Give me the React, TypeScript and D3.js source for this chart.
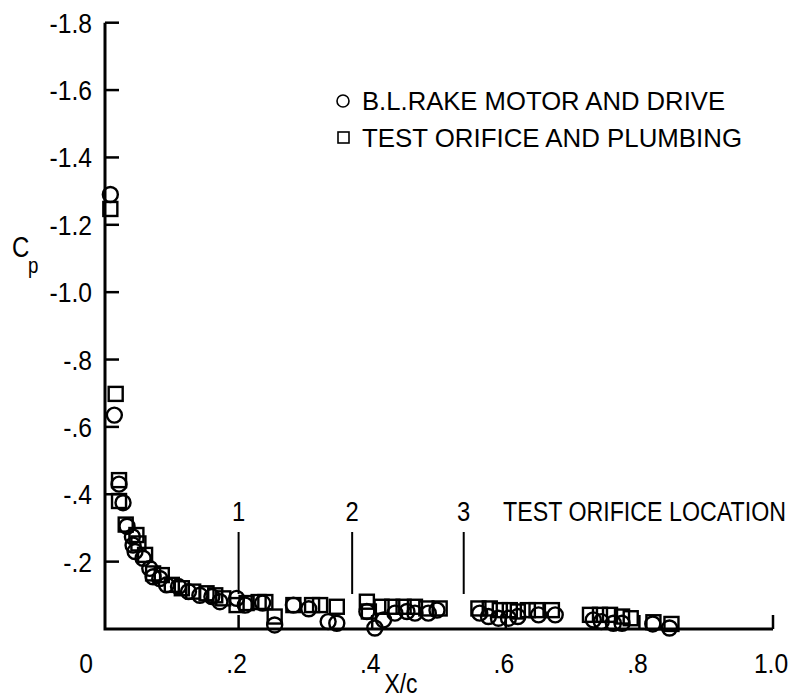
import React from "react";
import * as d3 from "d3";

const W = 799;
const H = 697;

// B.L. rake motor and drive (circles): [x/c, Cp]
const rakeX = [0.008, 0.014, 0.021, 0.027, 0.033, 0.041, 0.042, 0.045, 0.057, 0.067, 0.072, 0.082, 0.092, 0.11, 0.125, 0.142, 0.16, 0.172, 0.197, 0.21, 0.236, 0.254, 0.282, 0.305, 0.334, 0.347, 0.392, 0.404, 0.417, 0.434, 0.452, 0.464, 0.484, 0.497, 0.561, 0.574, 0.589, 0.604, 0.618, 0.649, 0.674, 0.731, 0.743, 0.761, 0.774, 0.82, 0.845];
const rakeCp = [-1.29, -0.635, -0.43, -0.375, -0.305, -0.274, -0.249, -0.23, -0.21, -0.18, -0.155, -0.15, -0.131, -0.126, -0.111, -0.1, -0.096, -0.081, -0.091, -0.071, -0.077, -0.012, -0.071, -0.06, -0.022, -0.017, -0.052, -0.003, -0.027, -0.047, -0.052, -0.047, -0.047, -0.056, -0.047, -0.037, -0.032, -0.032, -0.037, -0.042, -0.042, -0.027, -0.022, -0.017, -0.017, -0.015, -0.003];

// Test orifice and plumbing (squares): [x/c, Cp]
const orificeX = [0.008, 0.016, 0.021, 0.021, 0.031, 0.047, 0.05, 0.06, 0.072, 0.085, 0.1, 0.115, 0.132, 0.152, 0.165, 0.177, 0.197, 0.212, 0.23, 0.24, 0.254, 0.282, 0.31, 0.322, 0.347, 0.392, 0.395, 0.414, 0.43, 0.447, 0.464, 0.481, 0.501, 0.559, 0.576, 0.591, 0.606, 0.618, 0.633, 0.646, 0.669, 0.726, 0.741, 0.756, 0.774, 0.787, 0.821, 0.848];
const orificeCp = [-1.247, -0.698, -0.442, -0.38, -0.31, -0.279, -0.254, -0.22, -0.165, -0.16, -0.131, -0.121, -0.111, -0.106, -0.1, -0.091, -0.071, -0.077, -0.08, -0.08, -0.037, -0.071, -0.071, -0.071, -0.066, -0.081, -0.052, -0.066, -0.066, -0.066, -0.066, -0.061, -0.061, -0.061, -0.061, -0.056, -0.056, -0.052, -0.056, -0.056, -0.056, -0.042, -0.042, -0.042, -0.037, -0.032, -0.02, -0.015];

const yTicks = [-1.8, -1.6, -1.4, -1.2, -1.0, -0.8, -0.6, -0.4, -0.2];
const yTickLabels = ["-1.8", "-1.6", "-1.4", "-1.2", "-1.0", "-.8", "-.6", "-.4", "-.2"];
const xTicks = [0.2, 0.4, 0.6, 0.8, 1.0];
const xTickLabels = [".2", ".4", ".6", ".8", "1.0"];

const orificeLocations = [0.2, 0.37, 0.537];
const orificeLabels = ["1", "2", "3"];

const legendLabels = ["B.L.RAKE MOTOR AND DRIVE", "TEST ORIFICE AND PLUMBING"];

const FONT = "'Liberation Sans', Arial, sans-serif";

type TProps = {
  x: number;
  y: number;
  size: number;
  anchor?: "start" | "middle" | "end";
  sx?: number;
  children: React.ReactNode;
  textLength?: number;
};

function T({ x, y, size, anchor = "start", sx = 0.85, children, textLength }: TProps) {
  return (
    <text
      transform={`translate(${x},${y}) scale(${sx},1)`}
      textAnchor={anchor}
      fontSize={size}
      textLength={textLength ? textLength / sx : undefined}
      lengthAdjust={textLength ? "spacingAndGlyphs" : undefined}
    >
      {children}
    </text>
  );
}

export default function App() {
  const x = d3.scaleLinear().domain([0, 1]).range([105, 773]);
  const y = d3.scaleLinear().domain([0, -1.8]).range([629, 22.7]);

  const circles = rakeX.map((v, i) => ({ x: x(v), y: y(rakeCp[i]) }));
  const squares = orificeX.map((v, i) => ({ x: x(v), y: y(orificeCp[i]) }));

  const axisLine = d3.line<[number, number]>()([
    [x(0), y(-1.8)],
    [x(0), y(0)],
    [x(1), y(0)],
  ]);

  return (
    <svg width={W} height={H} style={{ position: "absolute", left: 0, top: 0, background: "#fff" }}>
      <rect width={W} height={H} fill="#fff" />
      <g fontFamily={FONT} fill="#000">
        {/* axes */}
        <path d={axisLine || ""} fill="none" stroke="#000" strokeWidth={3} />
        {yTicks.map((t, i) => (
          <g key={"yt" + i}>
            <line x1={x(0)} x2={x(0) + 14} y1={y(t)} y2={y(t)} stroke="#000" strokeWidth={2.5} />
            <T x={92} y={y(t) + 10} size={28} anchor="end" sx={0.88}>
              {yTickLabels[i]}
            </T>
          </g>
        ))}
        {xTicks.map((t, i) => (
          <g key={"xt" + i}>
            <line x1={x(t)} x2={x(t)} y1={y(0)} y2={y(0) - 14} stroke="#000" strokeWidth={2.5} />
            <T x={x(t) - 2} y={673} size={28} anchor="middle" sx={0.88}>
              {xTickLabels[i]}
            </T>
          </g>
        ))}
        <T x={86} y={673} size={28} anchor="middle" sx={0.88}>0</T>
        <T x={401} y={693} size={27} anchor="middle" sx={0.85}>X/c</T>
        <T x={12} y={257} size={30} sx={0.8}>C</T>
        <T x={28} y={273} size={22} sx={0.85}>p</T>

        {/* orifice location markers */}
        {orificeLocations.map((v, i) => (
          <g key={"ol" + i}>
            <line x1={x(v)} x2={x(v)} y1={532} y2={594} stroke="#000" strokeWidth={2} />
            <T x={x(v)} y={521} size={28} anchor="middle" sx={0.85}>
              {orificeLabels[i]}
            </T>
          </g>
        ))}
        <T x={503} y={521} size={27} textLength={283}>
          TEST ORIFICE LOCATION
        </T>

        {/* data */}
        {squares.map((p, i) => (
          <rect key={"s" + i} x={p.x - 7} y={p.y - 7} width={14} height={14} fill="none" stroke="#000" strokeWidth={2.4} />
        ))}
        {circles.map((p, i) => (
          <circle key={"c" + i} cx={p.x} cy={p.y} r={7.5} fill="none" stroke="#000" strokeWidth={2.4} />
        ))}

        {/* legend */}
        <circle cx={343} cy={101} r={6} fill="none" stroke="#000" strokeWidth={1.6} />
        <rect x={338} y={132} width={11} height={11} fill="none" stroke="#000" strokeWidth={1.6} />
        <T x={362} y={110} size={26} textLength={363}>
          {legendLabels[0]}
        </T>
        <T x={362} y={147} size={26} textLength={380}>
          {legendLabels[1]}
        </T>
      </g>
    </svg>
  );
}
